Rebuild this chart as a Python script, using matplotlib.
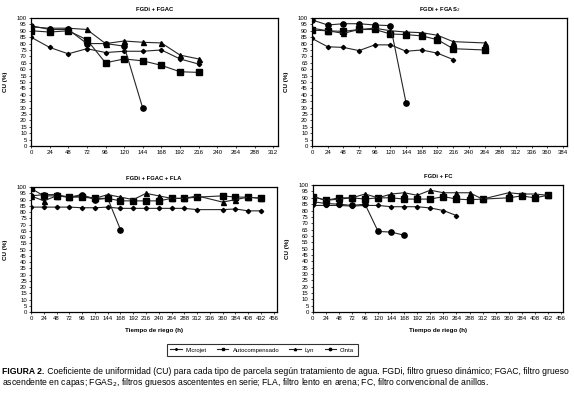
import matplotlib

matplotlib.use("Agg")
import matplotlib.pyplot as plt

plt.rcParams['font.family'] = ['Liberation Sans Narrow', 'Liberation Sans', 'DejaVu Sans']

series_names = ["Microjet", "Autocompensado", "Lyn", "Cinta"]

# FGDi + FGAC
h1 = [0, 24, 48, 72, 96, 120, 144, 168, 192, 216]
p1_micro = [85, 77, 72, 76, 73, 74, 74, 75, 68, 64]
p1_auto = [90, 89, 90, 83, 65, 68, 66.5, 63, 58, 57.5]
p1_lyn = [93, 92, 92, 91, 80, 82, 81, 80.5, 71, 68]
p1_cinta_h = [0, 24, 48, 72, 96, 120, 144]
p1_cinta = [94, 91, 91, 80, 80, 78, 29.5]

# FGDi + FGAS2
h2 = [0, 24, 48, 72, 96, 120, 144, 168, 192, 216, 264]
h2_micro = [0, 24, 48, 72, 96, 120, 144, 168, 192, 216]
p2_micro = [84, 77.5, 77, 74.5, 79, 79, 74, 75, 72.5, 67.5]
p2_auto = [90.5, 90, 89.5, 91, 91, 87.5, 87, 86, 83, 76, 75]
p2_lyn = [92, 90, 88, 91, 92, 90, 89, 88.5, 86.5, 81.5, 80.5]
p2_cinta_h = [0, 24, 48, 72, 96, 120, 144]
p2_cinta = [98.5, 94.5, 95.5, 95.5, 94.5, 94, 33.5]

# FGDi + FGAC + FLA
h3 = [0, 24, 48, 72, 96, 120, 144, 168, 192, 216, 240, 264, 288, 312, 360, 384, 408, 432]
p3_micro = [84, 84, 84, 84, 83.5, 83.5, 84, 83, 83, 83, 83, 83, 83, 82, 82, 82.5, 81, 81]
p3_auto = [99, 93, 93, 92, 92, 91, 91, 89, 89, 89, 89, 91, 91, 92, 93, 92, 92, 91]
p3_lyn = [93, 89, 93, 92, 93, 91, 94, 92, 90, 95, 93, 91, 91, 93, 88, 90, 92, 91]
p3_cinta_h = [0, 24, 48, 72, 96, 120, 144, 168]
p3_cinta = [93, 94, 94, 92, 94, 90, 91, 66]

# FGDi + FC
h4 = [0, 24, 48, 72, 96, 120, 144, 168, 192, 216, 240, 264, 288, 312, 360, 384, 408, 432]
h4_micro = [0, 24, 48, 72, 96, 120, 144, 168, 192, 216, 240, 264]
p4_micro = [84, 84, 84, 83.5, 84, 84, 83, 83, 83, 82, 80, 76]
p4_auto = [91, 88, 90, 90, 89, 90, 90, 89, 89, 89, 91, 89, 88.5, 89, 90, 91.5, 90, 92]
p4_lyn = [91, 88, 89, 90, 93, 90, 93, 94, 92, 96, 94, 94, 94, 89, 94, 93, 93, 92]
p4_cinta_h = [0, 24, 48, 72, 96, 120, 144, 168]
p4_cinta = [87, 85.5, 85, 84, 85, 63.5, 63, 60.5]

panels = [
    ("FGDi + FGAC", 318, 312, [(h1, p1_micro), (h1, p1_auto), (h1, p1_lyn), (p1_cinta_h, p1_cinta)]),
    ("FGDi + FGAS$_2$", 390, 384, [(h2_micro, p2_micro), (h2, p2_auto), (h2, p2_lyn), (p2_cinta_h, p2_cinta)]),
    ("FGDi + FGAC + FLA", 462, 456, [(h3, p3_micro), (h3, p3_auto), (h3, p3_lyn), (p3_cinta_h, p3_cinta)]),
    ("FGDi + FC", 460, 456, [(h4_micro, p4_micro), (h4, p4_auto), (h4, p4_lyn), (p4_cinta_h, p4_cinta)]),
]

positions = [
    [0.054, 0.634, 0.430, 0.321],
    [0.5436, 0.634, 0.444, 0.321],
    [0.054, 0.218, 0.4286, 0.313],
    [0.545, 0.218, 0.436, 0.318],
]

styles = [
    dict(marker="D", ms=2.2),
    dict(marker="s", ms=4.2),
    dict(marker="^", ms=3.6),
    dict(marker="o", ms=3.8),
]

fig = plt.figure(figsize=(5.74, 3.99), dpi=100)

handles = []
axes = []
for i, (title, xmax, lasttick, data) in enumerate(panels):
    ax = fig.add_axes(positions[i])
    axes.append(ax)
    for j, (x, y) in enumerate(data):
        ln, = ax.plot(x, y, color="0.15", lw=0.8, mfc="black", mec="black",
                      label=series_names[j], **styles[j])
        if i == 0:
            handles.append(ln)
    ax.set_xlim(0, xmax)
    ax.set_ylim(0, 100)
    ax.set_xticks(range(0, lasttick + 1, 24))
    ax.set_yticks(range(0, 101, 5))
    ax.tick_params(labelsize=4.3, length=1.5, width=0.5, pad=1.5)
    for s in ax.spines.values():
        s.set_linewidth(0.9)
    ax.set_title(title, fontsize=4.2, fontweight="bold", pad=5)
    ax.set_ylabel("CU (%)", fontsize=4.5, fontweight="bold", labelpad=6)
    if i >= 2:
        ax.set_xlabel("Tiempo de riego (h)", fontsize=4.5, fontweight="bold", labelpad=5)

leg = fig.legend(handles=handles, loc="center", bbox_to_anchor=(0.457, 0.123), ncol=4,
                 fontsize=4.3, markerscale=0.45, frameon=True, fancybox=False,
                 edgecolor="black", handlelength=1.9, columnspacing=1.7,
                 borderpad=0.6, handletextpad=0.7)
leg.get_frame().set_linewidth(0.8)

t1 = fig.text(0.004, 0.063, "FIGURA 2.", fontsize=6.25, fontweight="bold",
              va="baseline", ha="left")
axes[0].annotate(" Coeficiente de uniformidad (CU) para cada tipo de parcela según tratamiento de agua. "
                 "FGDi, filtro grueso dinámico; FGAC, filtro grueso",
                 xy=(1, 0), xycoords=t1, fontsize=6.25, va="bottom", ha="left",
                 annotation_clip=False)
fig.text(0.004, 0.034,
         "ascendente en capas; FGAS$_2$, filtros gruesos ascententes en serie; FLA, filtro lento en arena; FC, filtro convencional de anillos.",
         fontsize=6.25, va="baseline", ha="left")

fig.savefig("out.png", dpi=100)
